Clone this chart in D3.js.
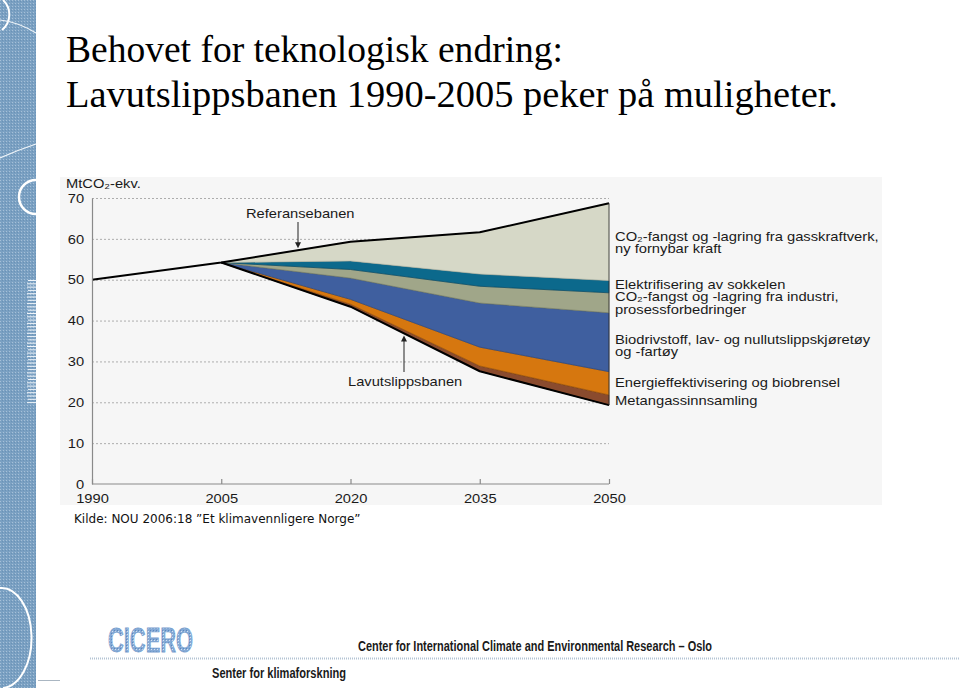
<!DOCTYPE html>
<html>
<head>
<meta charset="utf-8">
<script src="https://cdn.jsdelivr.net/npm/d3@7"></script>
<style>
  html, body { margin: 0; padding: 0; background: #fff; }
  svg { display: block; }
</style>
</head>
<body>
<svg id="chart" width="960" height="688"></svg>
<script>
// ---------- DATA ----------
const years = [1990, 2005, 2020, 2035, 2050];
const referansebanen = [50.0, 54.2, 59.3, 61.6, 68.7];           // top black line
const stackYears = [2005, 2020, 2035, 2050];
const lavutslippsbanen = [54.2, 43.4, 27.6, 19.3];                // bottom black line
const metangass = [0, 0.6, 1.3, 2.5];
const energieffektivisering = [0, 1.2, 4.6, 5.7];
const biodrivstoff = [0, 5.2, 10.8, 14.4];
const co2Industri = [0, 2.1, 4.1, 4.9];
const elektrifisering = [0, 2.1, 3.0, 3.0];
const co2Gasskraft = [0, 4.7, 10.2, 18.9];
const yTicks = [0, 10, 20, 30, 40, 50, 60, 70];
const xTicks = [1990, 2005, 2020, 2035, 2050];
const seriesKeys = ["metan", "energi", "bio", "ind", "elek", "gass"];
const seriesColors = ["#8a4b2e", "#d6770f", "#3f5f9f", "#a0a689", "#0c698c", "#d6d8c7"];
const seriesEdges = ["#5a2e1a", "#9c540a", "#2d467a", "#7c8266", "#084b66", "#b9bba9"];
const legendLabels = [
  "CO\u2082-fangst og -lagring fra gasskraftverk,", "ny fornybar kraft",
  "Elektrifisering av sokkelen",
  "CO\u2082-fangst og -lagring fra industri,", "prosessforbedringer",
  "Biodrivstoff, lav- og nullutslippskjøretøy", "og -fartøy",
  "Energieffektivisering og biobrensel",
  "Metangassinnsamling"
];

// ---------- SETUP ----------
const svg = d3.select("#chart");
const x = d3.scaleLinear().domain([1990, 2050]).range([92, 609]);
const y = d3.scaleLinear().domain([0, 70]).range([484, 198]);
const sans = "'Liberation Sans', Arial, Helvetica, sans-serif";
const SX = 1.13;   // horizontal stretch of the chart's lettering

function stretched(px, py, txt, size, sx) {
  return svg.append("text")
    .attr("transform", `translate(${px},${py}) scale(${sx},1)`)
    .attr("font-family", sans).attr("font-size", size).attr("fill", "#1a1a1a").text(txt);
}

const defs = svg.append("defs");
const pat = defs.append("pattern").attr("id", "barTex").attr("width", 3).attr("height", 3)
  .attr("patternUnits", "userSpaceOnUse");
pat.append("rect").attr("width", 3).attr("height", 3).attr("fill", "#7aa0c2");
pat.append("rect").attr("x", 0).attr("y", 0).attr("width", 1).attr("height", 1).attr("fill", "#a6c0d8");
pat.append("rect").attr("x", 2).attr("y", 1).attr("width", 1).attr("height", 1).attr("fill", "#6a92b6");
const pat2 = defs.append("pattern").attr("id", "logoTex").attr("width", 3).attr("height", 3)
  .attr("patternUnits", "userSpaceOnUse");
pat2.append("rect").attr("width", 3).attr("height", 3).attr("fill", "#86aad6");
pat2.append("rect").attr("x", 1).attr("y", 1).attr("width", 1).attr("height", 1).attr("fill", "#d3e2f2");
pat2.append("rect").attr("x", 0).attr("y", 0).attr("width", 1).attr("height", 1).attr("fill", "#5b88bd");

// ---------- LEFT DECORATIVE BAR ----------
const bar = svg.append("g");
bar.append("rect").attr("x", 0).attr("y", 0).attr("width", 36).attr("height", 688).attr("fill", "url(#barTex)");
bar.append("path").attr("d", "M3,0 A20,20 0 0 1 2,30").attr("fill", "none").attr("stroke", "#fff").attr("stroke-width", 2);
bar.append("path").attr("d", "M0,20 Q18,22 36,33").attr("fill", "none").attr("stroke", "#eef4f9").attr("stroke-width", 1.2);
bar.append("path").attr("d", "M0,158 Q18,150 36,144").attr("fill", "none").attr("stroke", "#eef4f9").attr("stroke-width", 1.2);
bar.append("path").attr("d", "M36,180 A17,17 0 1 0 36,214").attr("fill", "none").attr("stroke", "#fff").attr("stroke-width", 2.5);
bar.append("path").attr("d", "M0,588 A30,50 0 0 1 3,688").attr("fill", "none").attr("stroke", "#fff").attr("stroke-width", 2);
for (let i = 0; i < 38; i++) {
  bar.append("rect").attr("x", 27 + (i % 3 === 0 ? 1 : 0)).attr("y", 280 + i * 3.3)
    .attr("width", 9).attr("height", 1).attr("fill", "#f0f5fa");
}

// ---------- TITLE ----------
const serif = "'Liberation Serif', 'Times New Roman', serif";
svg.append("text").attr("x", 66).attr("y", 62).attr("font-family", serif).attr("font-size", 37)
  .attr("textLength", 497).attr("lengthAdjust", "spacingAndGlyphs").attr("fill", "#000")
  .text("Behovet for teknologisk endring:");
svg.append("text").attr("x", 66).attr("y", 107).attr("font-family", serif).attr("font-size", 37)
  .attr("textLength", 772).attr("lengthAdjust", "spacingAndGlyphs").attr("fill", "#000")
  .text("Lavutslippsbanen 1990-2005 peker på muligheter.");

// ---------- CHART PANEL ----------
svg.append("rect").attr("x", 60).attr("y", 177).attr("width", 822).attr("height", 328).attr("fill", "#f6f6f6");

// gridlines
svg.append("g").selectAll("line").data(yTicks.filter(d => d > 0)).join("line")
  .attr("x1", x(1990)).attr("x2", x(2050))
  .attr("y1", d => y(d) + 0.5).attr("y2", d => y(d) + 0.5)
  .attr("stroke", "#9a9a9a").attr("stroke-width", 0.8).attr("stroke-dasharray", "2,2");

// stacked areas
const rows = stackYears.map((yr, i) => ({
  year: yr, base: lavutslippsbanen[i],
  metan: metangass[i], energi: energieffektivisering[i], bio: biodrivstoff[i],
  ind: co2Industri[i], elek: elektrifisering[i], gass: co2Gasskraft[i]
}));
const stacked = d3.stack().keys(seriesKeys)(rows);
const area = d3.area()
  .x(d => x(d.data.year))
  .y0(d => y(d.data.base + d[0]))
  .y1(d => y(d.data.base + d[1]));
svg.append("g").selectAll("path").data(stacked).join("path")
  .attr("d", area)
  .attr("fill", (d, i) => seriesColors[i])
  .attr("stroke", (d, i) => seriesEdges[i]).attr("stroke-width", 0.7);

// black lines
const refLine = d3.line().x((d, i) => x(years[i])).y(d => y(d));
svg.append("path").attr("d", refLine(referansebanen)).attr("fill", "none")
  .attr("stroke", "#000").attr("stroke-width", 2).attr("stroke-linejoin", "round");
const lowLine = d3.line().x((d, i) => x(stackYears[i])).y(d => y(d));
svg.append("path").attr("d", lowLine(lavutslippsbanen)).attr("fill", "none")
  .attr("stroke", "#000").attr("stroke-width", 2).attr("stroke-linejoin", "round");
svg.append("line").attr("x1", x(2050)).attr("x2", x(2050))
  .attr("y1", y(referansebanen[4])).attr("y2", y(lavutslippsbanen[3]))
  .attr("stroke", "#333").attr("stroke-width", 0.8);

// axes
const yAxis = d3.axisLeft(y).tickValues(yTicks).tickSize(0).tickPadding(7);
const gy = svg.append("g").attr("transform", `translate(${x(1990)},0)`).call(yAxis);
gy.select(".domain").attr("stroke", "#8a8a8a").attr("stroke-width", 1.2);
gy.selectAll("text").attr("font-family", sans).attr("font-size", 13).attr("fill", "#1a1a1a")
  .attr("dy", "0.32em").attr("transform", `scale(${SX},1)`);

const xAxis = d3.axisTop(x).tickValues(xTicks).tickSize(5).tickFormat(d3.format("d"));
const gx = svg.append("g").attr("transform", `translate(0,${y(0)})`).call(xAxis);
gx.select(".domain").attr("stroke", "#8a8a8a").attr("stroke-width", 1.2).attr("d", `M${x(1990)},0H${x(2050)}`);
gx.selectAll(".tick line").attr("stroke", "#8a8a8a").attr("stroke-width", 1.2);
gx.selectAll(".tick text").attr("font-family", sans).attr("font-size", 13).attr("fill", "#1a1a1a")
  .attr("y", 19.5).attr("dy", 0).attr("transform", `scale(${SX},1)`);

// unit label
stretched(66, 188, "MtCO\u2082-ekv.", 13, SX);

// annotations
stretched(246, 218, "Referansebanen", 13, SX);
const arrowX = 298;
const refAtArrow = y(referansebanen[1] + (referansebanen[2] - referansebanen[1]) * (arrowX - x(2005)) / (x(2020) - x(2005)));
svg.append("line").attr("x1", arrowX).attr("x2", arrowX).attr("y1", 222).attr("y2", refAtArrow - 6)
  .attr("stroke", "#222").attr("stroke-width", 1);
svg.append("path").attr("d", `M${arrowX - 3},${refAtArrow - 8}L${arrowX + 3},${refAtArrow - 8}L${arrowX},${refAtArrow - 2}Z`).attr("fill", "#222");

stretched(348, 386, "Lavutslippsbanen", 13, SX);
const arrow2X = 404;
const lowAtArrow = y(lavutslippsbanen[1] + (lavutslippsbanen[2] - lavutslippsbanen[1]) * (arrow2X - x(2020)) / (x(2035) - x(2020)));
svg.append("line").attr("x1", arrow2X).attr("x2", arrow2X).attr("y1", 372).attr("y2", lowAtArrow + 6)
  .attr("stroke", "#222").attr("stroke-width", 1);
svg.append("path").attr("d", `M${arrow2X - 3},${lowAtArrow + 8}L${arrow2X + 3},${lowAtArrow + 8}L${arrow2X},${lowAtArrow + 2}Z`).attr("fill", "#222");

// right legend labels
const legendY = [241, 253, 289, 301, 314, 344, 356, 387, 405];
legendLabels.forEach((t, i) => stretched(615, legendY[i], t, 12.5, 1.18));

// source
svg.append("text").attr("x", 74).attr("y", 523).attr("font-family", "'DejaVu Sans', Verdana, sans-serif")
  .attr("font-size", 12).attr("fill", "#111")
  .text("Kilde: NOU 2006:18 \u201DEt klimavennligere Norge\u201D");

// ---------- FOOTER ----------
svg.append("text").attr("x", 108).attr("y", 652).attr("font-family", "'Liberation Sans', Arial, sans-serif")
  .attr("font-weight", "bold").attr("font-size", 35).attr("textLength", 85).attr("lengthAdjust", "spacingAndGlyphs")
  .attr("fill", "url(#logoTex)").attr("stroke", "#7aa2d0").attr("stroke-width", 0.8).text("CICERO");
svg.append("line").attr("x1", 90).attr("x2", 960).attr("y1", 658.5).attr("y2", 658.5)
  .attr("stroke", "#b4c4d4").attr("stroke-width", 2).attr("stroke-dasharray", "1,1");
svg.append("line").attr("x1", 38).attr("x2", 60).attr("y1", 680.5).attr("y2", 680.5)
  .attr("stroke", "#aab6c2").attr("stroke-width", 1);
svg.append("text").attr("x", 358).attr("y", 651).attr("font-family", "'Liberation Sans Narrow', 'Liberation Sans', sans-serif")
  .attr("font-weight", "bold").attr("font-size", 14).attr("textLength", 354).attr("lengthAdjust", "spacingAndGlyphs")
  .attr("fill", "#1a1a1a").text("Center for International Climate and Environmental Research \u2013 Oslo");
svg.append("text").attr("x", 212).attr("y", 678).attr("font-family", "'Liberation Sans Narrow', 'Liberation Sans', sans-serif")
  .attr("font-weight", "bold").attr("font-size", 14).attr("textLength", 134).attr("lengthAdjust", "spacingAndGlyphs")
  .attr("fill", "#1a1a1a").text("Senter for klimaforskning");
</script>
</body>
</html>
